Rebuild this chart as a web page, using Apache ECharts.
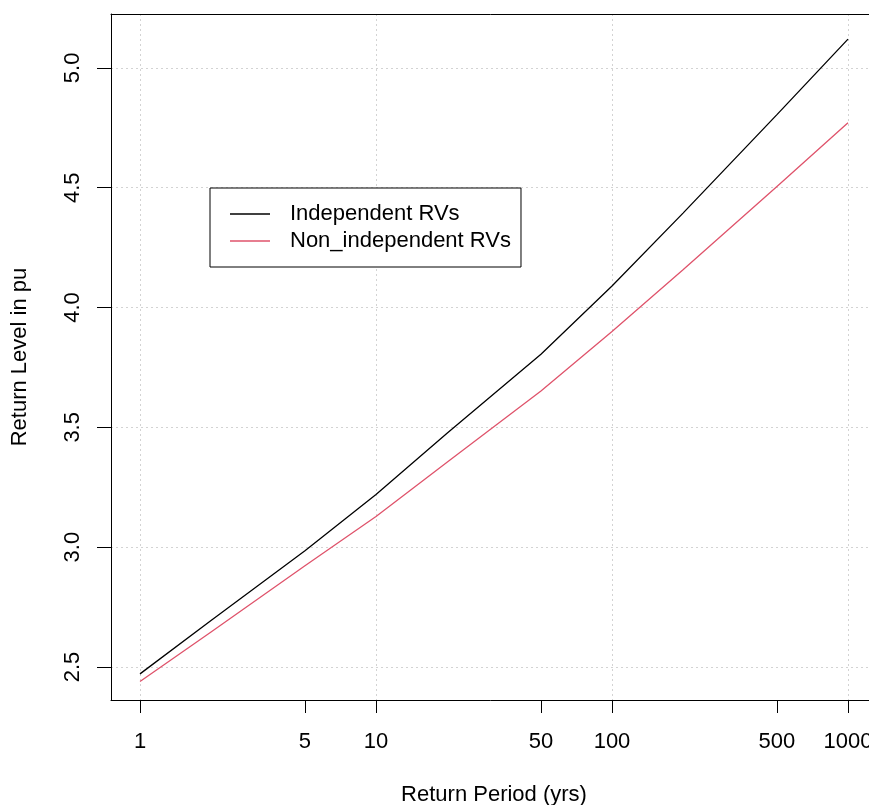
<!DOCTYPE html>
<html>
<head>
<meta charset="utf-8">
<script src="https://cdn.jsdelivr.net/npm/echarts@6/dist/echarts.min.js"></script>
<style>
html,body{margin:0;padding:0;background:#fff;}
#chart{width:869px;height:805px;}
</style>
</head>
<body>
<div id="chart"></div>
<script>
// Return periods (years)
var returnPeriods = [1, 2, 5, 10, 20, 50, 100, 200, 500, 1000];
// Return levels (pu)
var independentRVs = [2.471, 2.694, 2.985, 3.22, 3.475, 3.805, 4.09, 4.394, 4.805, 5.12];
var nonIndependentRVs = [2.439, 2.646, 2.922, 3.128, 3.354, 3.652, 3.90, 4.158, 4.505, 4.771];
// Tick labels
var xTickValues = [1, 5, 10, 50, 100, 500, 1000];
var xGridValues = [1, 10, 100, 1000];
var yTickValues = [2.5, 3.0, 3.5, 4.0, 4.5, 5.0];
var seriesNames = ['Independent RVs', 'Non_independent RVs'];

var FONT = '"Liberation Sans", Arial, Helvetica, sans-serif';
var FS = 22;

function pairs(xs, ys) { return xs.map(function (x, i) { return [x, ys[i]]; }); }

var chart = echarts.init(document.getElementById('chart'), null, {renderer: 'canvas'});
var xMin = Math.pow(10, -0.1229), xMax = Math.pow(10, 3.1229);
var gridLine = {show: true, lineStyle: {color: '#d3d3d3', width: 1, type: [2, 3]}};

var option = {
  animation: false,
  backgroundColor: '#fff',
  textStyle: {fontFamily: FONT},
  grid: {left: 111, top: 14, width: 766, height: 686, show: false, containLabel: false, outerBoundsMode: 'none'},
  legend: {
    orient: 'vertical', left: 210, top: 188,
    backgroundColor: '#fff', borderColor: '#000', borderWidth: 1,
    padding: [15, 10, 15, 20],
    itemWidth: 40, itemHeight: 1.5, itemGap: 5,
    icon: 'rect',
    textStyle: {fontFamily: FONT, fontSize: FS, color: '#000', lineHeight: 22, padding: [0, 0, 0, 15]},
    data: seriesNames
  },
  xAxis: [{
    type: 'log', logBase: 10, min: xMin, max: xMax,
    name: 'Return Period (yrs)', nameLocation: 'middle', nameGap: 84,
    nameTextStyle: {fontFamily: FONT, fontSize: FS, color: '#000'},
    axisLine: {show: true, onZero: false, lineStyle: {color: '#000', width: 1}},
    axisTick: {show: true, length: 13, inside: false, lineStyle: {color: '#000', width: 1}, customValues: xTickValues},
    axisLabel: {show: true, margin: 31, fontFamily: FONT, fontSize: FS, color: '#000', customValues: xTickValues, formatter: function (v) { return String(Math.round(v)); }},
    splitLine: {show: false},
    minorTick: {show: false}
  }, {
    type: 'log', logBase: 10, min: xMin, max: xMax, position: 'top',
    axisLine: {show: true, onZero: false, lineStyle: {color: '#000', width: 1}},
    axisTick: {show: false, customValues: xGridValues}, axisLabel: {show: false},
    splitLine: gridLine
  }],
  yAxis: {
    type: 'value', min: 2.362, max: 5.225,
    name: 'Return Level in pu', nameLocation: 'middle', nameGap: 80, nameRotate: 90,
    nameTextStyle: {fontFamily: FONT, fontSize: FS, color: '#000'},
    axisLine: {show: true, onZero: false, lineStyle: {color: '#000', width: 1}},
    axisTick: {show: true, length: 14, inside: false, lineStyle: {color: '#000', width: 1}, customValues: yTickValues},
    axisLabel: {show: true, rotate: 90, margin: 27, fontFamily: FONT, fontSize: FS, color: '#000', customValues: yTickValues, formatter: function (v) { return Number(v).toFixed(1); }},
    splitLine: gridLine
  },
  series: [{
    name: seriesNames[0], type: 'line', xAxisIndex: 0,
    data: pairs(returnPeriods, independentRVs),
    showSymbol: false, symbol: 'none', smooth: false,
    lineStyle: {color: '#000000', width: 1.3}, itemStyle: {color: '#000000'}
  }, {
    name: seriesNames[1], type: 'line', xAxisIndex: 0,
    data: pairs(returnPeriods, nonIndependentRVs),
    showSymbol: false, symbol: 'none', smooth: false,
    lineStyle: {color: '#DF536B', width: 1.3}, itemStyle: {color: '#DF536B'}
  }]
};
chart.setOption(option);
</script>
</body>
</html>
